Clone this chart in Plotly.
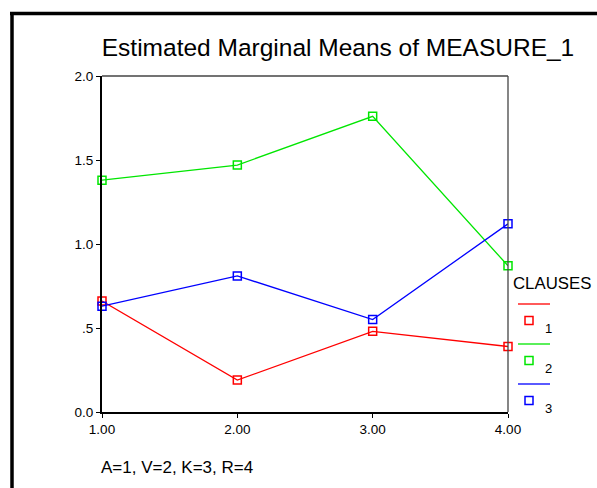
import plotly.graph_objects as go

# ---- data ----
x_levels = [1, 2, 3, 4]
x_tick_labels = ["1.00", "2.00", "3.00", "4.00"]
y_tick_vals = [0.0, 0.5, 1.0, 1.5, 2.0]
y_tick_labels = ["0.0", ".5", "1.0", "1.5", "2.0"]
series_names = ["1", "2", "3"]
clause1 = [0.66, 0.19, 0.48, 0.39]
clause2 = [1.38, 1.47, 1.76, 0.87]
clause3 = [0.63, 0.81, 0.55, 1.12]
series_colors = ["#ff0000", "#00e600", "#0000ff"]

W, H = 597, 488
L, R, T, B = 102, 508, 76, 412

def px(xp):
    return (xp - L) / (R - L)

def py(yp):
    return (B - yp) / (B - T)

fig = go.Figure()
for name, vals, col in zip(series_names, [clause1, clause2, clause3], series_colors):
    fig.add_trace(go.Scatter(
        x=x_levels, y=vals, mode="lines+markers", name=name,
        line=dict(color=col, width=1.3),
        marker=dict(symbol="square-open", size=8, color=col, line=dict(width=1.5, color=col)),
        cliponaxis=False, showlegend=False, hoverinfo="skip",
    ))

font = "Liberation Sans, Arial, sans-serif"
shapes = []
annotations = []

# outer border (top and left)
shapes.append(dict(type="line", xref="paper", yref="paper", x0=px(10), x1=px(597), y0=py(13.5), y1=py(13.5),
                   line=dict(color="black", width=3.5)))
shapes.append(dict(type="line", xref="paper", yref="paper", x0=px(12), x1=px(12), y0=py(12), y1=py(488),
                   line=dict(color="black", width=3.5)))
# top and right frame of plot area
shapes.append(dict(type="line", xref="paper", yref="paper", x0=0, x1=1, y0=1, y1=1,
                   line=dict(color="#444444", width=1.3)))
shapes.append(dict(type="line", xref="paper", yref="paper", x0=1, x1=1, y0=0, y1=1,
                   line=dict(color="#444444", width=1.3)))

# custom legend
annotations.append(dict(text="CLAUSES", xref="paper", yref="paper", x=px(511), y=py(283),
                        xanchor="left", yanchor="middle", showarrow=False,
                        font=dict(family=font, size=16.8, color="black")))
for i, (name, col) in enumerate(zip(series_names, series_colors)):
    yl = 304 + 40 * i
    shapes.append(dict(type="line", xref="paper", yref="paper", x0=px(518), x1=px(550), y0=py(yl), y1=py(yl),
                       line=dict(color=col, width=1.3)))
    ys = yl + 16.5
    shapes.append(dict(type="rect", xref="paper", yref="paper", x0=px(525), x1=px(533), y0=py(ys - 4), y1=py(ys + 4),
                       line=dict(color=col, width=1.5)))
    annotations.append(dict(text=name, xref="paper", yref="paper", x=px(548), y=py(ys + 8),
                            xanchor="center", yanchor="middle", showarrow=False,
                            font=dict(family=font, size=13, color="black")))

# footnote
annotations.append(dict(text="A=1, V=2, K=3, R=4", xref="paper", yref="paper", x=px(99), y=py(467),
                        xanchor="left", yanchor="middle", showarrow=False,
                        font=dict(family=font, size=17, color="black")))

fig.update_layout(
    width=W, height=H,
    margin=dict(l=L, r=W - R, t=T, b=H - B, pad=0),
    paper_bgcolor="white", plot_bgcolor="white",
    title=dict(text="Estimated Marginal Means of MEASURE_1", xref="container", x=338 / W, xanchor="center",
               y=1 - 47 / H, yanchor="middle", font=dict(family=font, size=24.5, color="black")),
    shapes=shapes, annotations=annotations,
    showlegend=False,
)
fig.update_xaxes(range=[1, 4], tickvals=x_levels, ticktext=x_tick_labels, showgrid=False, zeroline=False,
                 showline=True, linecolor="black", linewidth=2, ticks="outside", ticklen=4, tickwidth=1,
                 tickcolor="black", tickfont=dict(family=font, size=13.5, color="black"))
fig.update_yaxes(range=[0, 2], tickvals=y_tick_vals, ticktext=y_tick_labels, showgrid=False, zeroline=False,
                 showline=True, linecolor="black", linewidth=2, ticks="outside", ticklen=4, tickwidth=1,
                 tickcolor="black", tickfont=dict(family=font, size=13.5, color="black"))

fig.write_html("out.html", config={"displayModeBar": False},
               post_script="document.body.style.margin='0px';")
